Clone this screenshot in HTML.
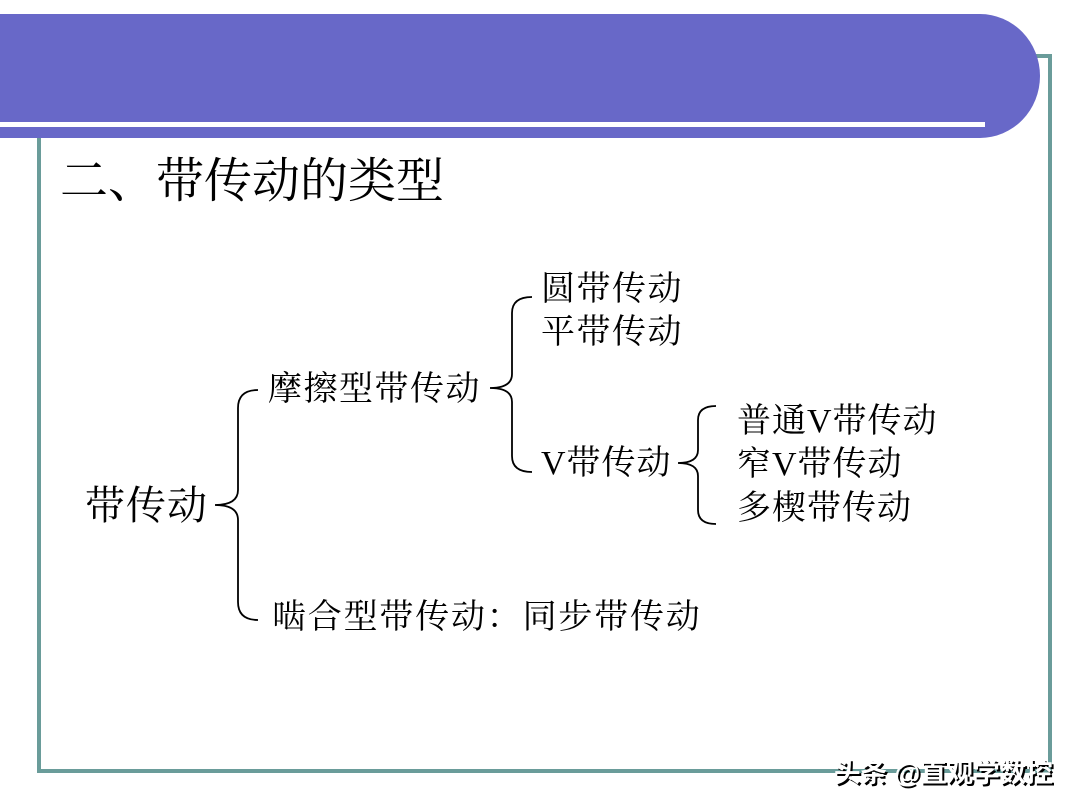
<!DOCTYPE html>
<html><head><meta charset="utf-8"><style>
html,body{margin:0;padding:0;background:#fff;}
svg{display:block}
text{font-family:"Liberation Serif","Noto Serif CJK SC",serif;fill:#000}
</style></head><body>
<svg width="1080" height="810" viewBox="0 0 1080 810">
<rect x="39" y="56" width="1011" height="715" fill="none" stroke="#6a9c9a" stroke-width="4"/>
<path d="M0,14 L980,14 A60,62 0 0 1 980,138 L0,138 Z" fill="#6868c8"/>
<rect x="0" y="122" width="985" height="5" fill="#fff"/>
<text x="60" y="197" font-size="48">二、带传动的类型</text>
<g fill="none" stroke="#000" stroke-width="1.8">
<path d="M258,390 Q238,390 238,408 L238,490 Q238,505 215,505 Q238,505 238,520 L238,602 Q238,620 258,620"/>
<path d="M532,297 Q512,297 512,313 L512,374 Q512,388 490,388 Q512,388 512,402 L512,456 Q512,472 532,472"/>
<path d="M716,406 Q698,406 698,420 L698,450 Q698,463 678,463 Q698,463 698,476 L698,510 Q698,524 716,524"/>
</g>
<text x="85" y="519" font-size="40" letter-spacing="1">带传动</text>
<text x="268" y="400" font-size="34" letter-spacing="1.5">摩擦型带传动</text>
<text x="272" y="628" font-size="34" letter-spacing="1.8">啮合型带传动：同步带传动</text>
<text x="541" y="300" font-size="34" letter-spacing="1.5">圆带传动</text>
<text x="541" y="343" font-size="34" letter-spacing="1.5">平带传动</text>
<text x="541" y="474" font-size="34" letter-spacing="1">V带传动</text>
<text x="737" y="432" font-size="34" letter-spacing="1">普通V带传动</text>
<text x="737" y="475" font-size="34" letter-spacing="1">窄V带传动</text>
<text x="737" y="519" font-size="34" letter-spacing="1">多楔带传动</text>
<g font-size="26.5" font-weight="bold">
<text x="836" y="784" style="fill:#000;font-family:'Liberation Sans','Noto Sans CJK SC',sans-serif">头条 @直观学数控</text>
<text x="834" y="782" style="fill:#fff;font-family:'Liberation Sans','Noto Sans CJK SC',sans-serif">头条 @直观学数控</text>
</g>
</svg>
</body></html>
